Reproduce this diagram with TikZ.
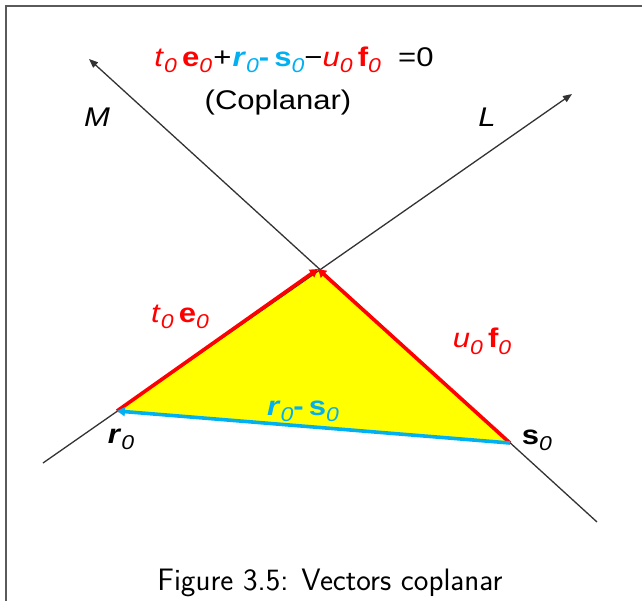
\documentclass[tikz,border=0pt]{standalone}
\usepackage{fontspec}
\setmainfont{Liberation Sans}
\usetikzlibrary{arrows.meta}
\definecolor{vred}{RGB}{255,0,0}
\definecolor{vblue}{RGB}{0,176,240}
\definecolor{vyellow}{RGB}{255,255,0}
\definecolor{framegray}{RGB}{90,90,90}
\newcommand{\zs}{\raisebox{-6pt}{\fontsize{20}{20}\normalfont\itshape 0}}
\newcommand{\wide}[1]{\scalebox{1.15}[1]{#1}}
\tikzset{
  axisline/.style={draw=black!80, line width=1.3pt, -{Triangle[length=9pt,width=7pt]}},
  redvec/.style={draw=vred, line width=3.6pt, -{Triangle[length=8pt,width=9pt]}},
  bluevec/.style={draw=vblue, line width=3.6pt, -{Triangle[length=8pt,width=9pt]}},
  lbl/.style={inner sep=0pt, anchor=base, font=\fontsize{27}{31}\selectfont},
  caption/.style={inner sep=0pt, anchor=base, font=\fontsize{31}{36}\selectfont\sffamily},
}
\begin{document}
\begin{tikzpicture}[x=1pt,y=-1pt]
\useasboundingbox (0,0) rectangle (642,601);
% frame
\draw[framegray, line width=1.2pt] (6,601) -- (6,6) -- (642,6);
% points
\coordinate (A) at (318,269);
\coordinate (R) at (117,411);
\coordinate (S) at (510,443);
\coordinate (Lstart) at (43,463);
\coordinate (Lend) at (572,94);
\coordinate (Mstart) at (597,522);
\coordinate (Mend) at (89,59);
% triangle
\fill[vyellow] (R) -- (A) -- (S) -- cycle;
% lines
\draw[axisline] (Lstart) -- (Lend);
\draw[axisline] (Mstart) -- (Mend);
% vectors
\draw[redvec] (R) -- (A);
\draw[redvec] (S) -- (A);
\draw[bluevec] (S) -- (R);
% labels
\node[lbl] (eq) at (294,67) {\wide{\color{vred}\textit{t}\zs\,\textbf{e}\zs\kern1pt\color{black}+\kern1pt\color{vblue}\textbf{\textit{r}}\zs\textbf{-}\,\textbf{s}\zs\color{black}\char"2212\color{vred}\textit{u}\zs\,\textbf{f}\zs\color{black}\ \ =0}};
\node[lbl] (cop) at (278,110) {\wide{(Coplanar)}};
\node[lbl] (M) at (97,127) {\wide{\textit{M}}};
\node[lbl] (L) at (487,127) {\wide{\textit{L}}};
\node[lbl, text=vred] (te) at (180,323) {\wide{\textit{t}\zs\,\textbf{e}\zs}};
\node[lbl, text=vred] (uf) at (482,348) {\wide{\textit{u}\zs\,\textbf{f}\zs}};
\node[lbl, text=vblue] (rs) at (303,415) {\wide{\textbf{\textit{r}}\zs\textbf{-}\,\textbf{s}\zs}};
\node[lbl] (r0) at (121,443) {\wide{\textbf{\textit{r}}\zs}};
\node[lbl] (s0) at (537,444) {\wide{\textbf{s}\zs}};
\node[caption] (cap) at (330,590) {Figure 3.5: Vectors coplanar};
\end{tikzpicture}
\end{document}
